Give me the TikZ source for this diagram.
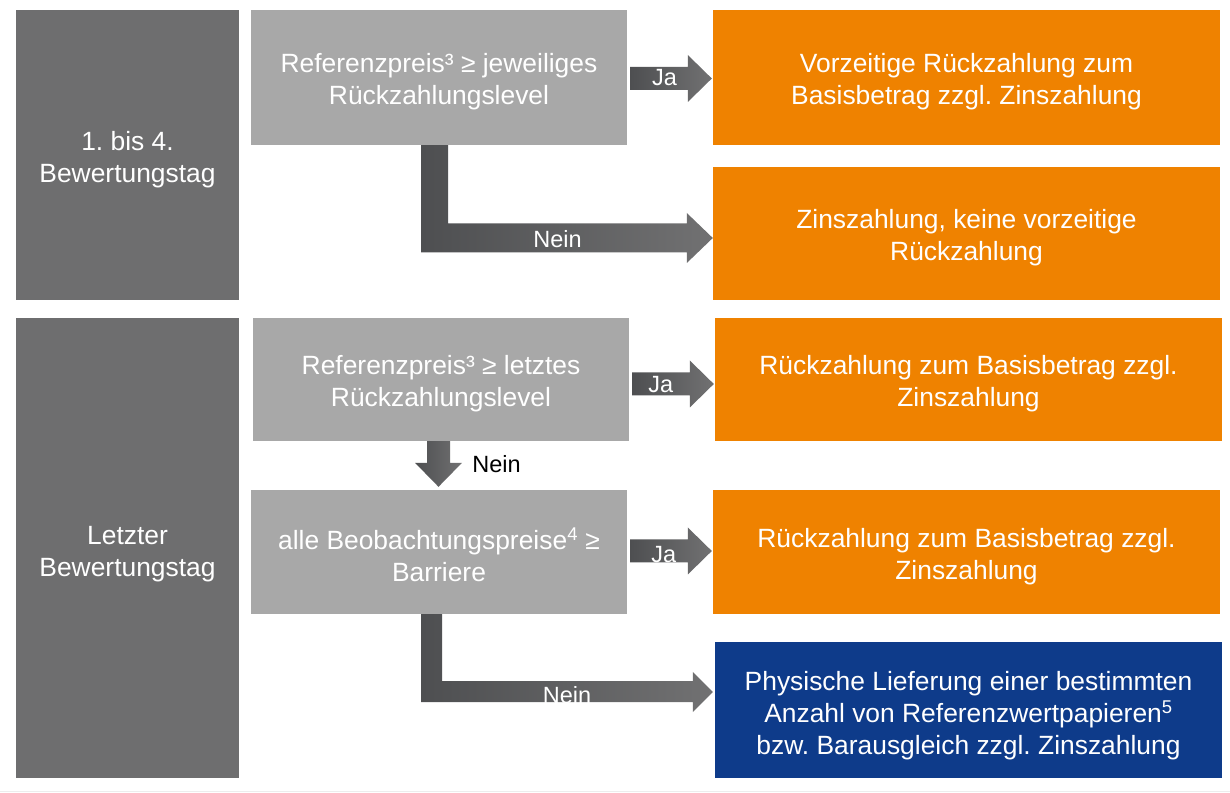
\documentclass[tikz,border=0pt]{standalone}
\usepackage{fontspec}
\setmainfont{Liberation Sans}
\usetikzlibrary{calc}
\definecolor{dgray}{HTML}{6E6E6F}
\definecolor{lgray}{HTML}{A8A8A8}
\definecolor{org}{HTML}{EF8200}
\definecolor{navy}{HTML}{0E3B8A}
\definecolor{arrL}{HTML}{4E4F51}
\definecolor{arrR}{HTML}{717172}
\newcommand\up{\rule{0pt}{28pt}}
\newcommand\jaarrow[3]{%
  \shade[arr] let \p1=(#1.east), \p2=(#2.west), \n1={\y1+#3} in
    (\x1+3pt,\n1-11.5pt) -- (\x2-25pt,\n1-11.5pt) -- (\x2-25pt,\n1-23.5pt)
    -- (\x2-1pt,\n1) -- (\x2-25pt,\n1+23.5pt) -- (\x2-25pt,\n1+11.5pt)
    -- (\x1+3pt,\n1+11.5pt) -- cycle;}
\frenchspacing
\begin{document}
\begin{tikzpicture}[x=1pt,y=1pt,
  box/.style={rectangle, inner sep=0pt, align=center, text=white,
    font=\fontsize{26.4}{31.8}\selectfont},
  lab/.style={inner sep=0pt, anchor=base, font=\fontsize{23.5}{28}\selectfont},
  arr/.style={left color=arrL, right color=arrR}]
\useasboundingbox (0,0) rectangle (1230,792);
\draw[color=black!7, line width=1pt] (0,1) -- (1230,1);

% left column
\node[box, fill=dgray, minimum width=223pt, minimum height=290pt] (L1) at (127.5,637) {\up1. bis 4.\\Bewertungstag};
\node[box, fill=dgray, minimum width=223pt, minimum height=460pt] (L2) at (127.5,244) {\rule{0pt}{30pt}Letzter\\Bewertungstag};

% conditions
\node[box, fill=lgray, minimum width=376pt, minimum height=135pt] (A) at (439,714.5) {\up Referenzpreis³ ≥ jeweiliges\\Rückzahlungslevel};
\node[box, fill=lgray, minimum width=376pt, minimum height=123pt] (B) at (441,412.5) {\up Referenzpreis³ ≥ letztes\\Rückzahlungslevel};
\node[box, fill=lgray, minimum width=376pt, minimum height=124pt] (C) at (439,240) {\up alle Beobachtungspreise\textsuperscript{4} ≥\\Barriere};

% outcomes
\node[box, fill=org, minimum width=507pt, minimum height=135pt] (O1) at (966.5,714.5) {\up Vorzeitige Rückzahlung zum\\Basisbetrag zzgl. Zinszahlung};
\node[box, fill=org, minimum width=507pt, minimum height=133pt] (O2) at (966.5,558.5) {\up Zinszahlung, keine vorzeitige\\Rückzahlung};
\node[box, fill=org, minimum width=507pt, minimum height=123pt] (O3) at (968.5,412.5) {\up Rückzahlung zum Basisbetrag zzgl.\\Zinszahlung};
\node[box, fill=org, minimum width=507pt, minimum height=124pt] (O4) at (966.5,240) {\up Rückzahlung zum Basisbetrag zzgl.\\Zinszahlung};
\node[box, fill=navy, minimum width=507pt, minimum height=136pt] (O5) at (968.5,82) {\rule{0pt}{31pt}Physische Lieferung einer bestimmten\\Anzahl von Referenzwertpapieren\textsuperscript{5}\\bzw. Barausgleich zzgl. Zinszahlung};

% Ja arrows
\jaarrow{A}{O1}{-1pt}
\jaarrow{B}{O3}{-4.5pt}
\jaarrow{C}{O4}{1pt}
\node[lab, text=white] (ja1) at (664.5,706) {Ja};
\node[lab, text=white] (ja2) at (660.7,399) {Ja};
\node[lab, text=white] (ja3) at (663.7,229) {Ja};

% Nein bent arrow 1
\shade[arr] let \p1=(A.south), \p2=(O2.west) in
  (\x1-18pt,\y1) -- (\x1+9pt,\y1) -- (\x1+9pt,\y2+10pt) -- (\x2-26pt,\y2+10pt)
  -- (\x2-26pt,\y2+20.5pt) -- (\x2,\y2-4.5pt) -- (\x2-26pt,\y2-29.5pt)
  -- (\x2-26pt,\y2-19pt) -- (\x1-18pt,\y2-19pt) -- cycle;
\node[lab, text=white] (nein1) at (557.5,544) {Nein};

% Nein down arrow
\shade[arr] let \p1=(B.south), \p2=(C.north) in
  (\x1-14pt,\y1) -- (\x1+9pt,\y1) -- (\x1+9pt,\y2+27pt) -- (\x1+21pt,\y2+27pt)
  -- (\x1-2.5pt,\y2+3pt) -- (\x1-26pt,\y2+27pt) -- (\x1-14pt,\y2+27pt) -- cycle;
\node[lab, text=black] (nein2) at (496.5,319) {Nein};

% Nein bent arrow 2
\shade[arr] let \p1=(C.south), \p2=(O5.west) in
  (\x1-18pt,\y1) -- (\x1+3pt,\y1) -- (\x1+3pt,\y2+29pt) -- (\x2-22pt,\y2+29pt)
  -- (\x2-22pt,\y2+38pt) -- (\x2-2pt,\y2+18pt) -- (\x2-22pt,\y2-2pt)
  -- (\x2-22pt,\y2+8pt) -- (\x1-18pt,\y2+8pt) -- cycle;
\node[lab, text=white] (nein3) at (567,89) {Nein};
\end{tikzpicture}
\end{document}
